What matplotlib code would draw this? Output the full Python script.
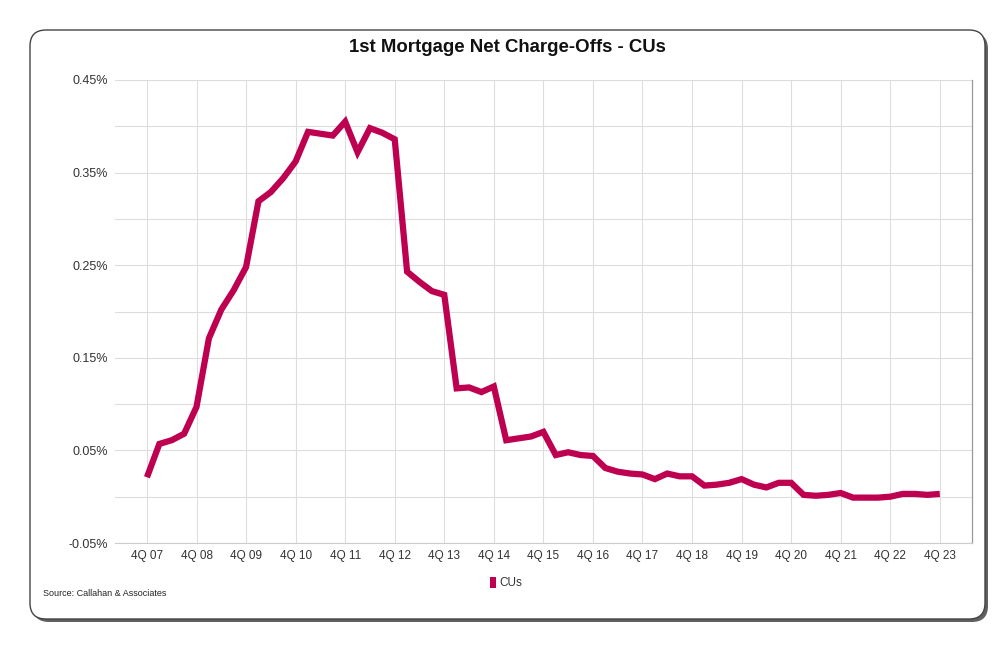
import matplotlib
matplotlib.use("Agg")
import matplotlib.pyplot as plt
import numpy as np
from matplotlib.patches import FancyBboxPatch, Patch
from matplotlib.ticker import FixedLocator

plt.rcParams['font.family'] = ['Liberation Sans', 'DejaVu Sans']

title = "1st Mortgage Net Charge-Offs - CUs"
series_name = "CUs"
source = "Source: Callahan & Associates"

# quarterly values (%), 4Q07 .. 4Q23
values = [0.021, 0.057, 0.061, 0.068, 0.097, 0.171, 0.202, 0.223, 0.248,
          0.319, 0.329, 0.344, 0.362, 0.394, 0.392, 0.390, 0.405, 0.372,
          0.398, 0.393, 0.386, 0.243, 0.232, 0.222, 0.218, 0.117, 0.118,
          0.113, 0.119, 0.061, 0.063, 0.065, 0.070, 0.045, 0.048, 0.045,
          0.044, 0.031, 0.027, 0.025, 0.024, 0.019, 0.025, 0.022, 0.022,
          0.012, 0.013, 0.015, 0.019, 0.013, 0.010, 0.015, 0.015, 0.002,
          0.001, 0.002, 0.004, -0.001, -0.001, -0.001, 0.000, 0.003, 0.003,
          0.002, 0.003]
tick_labels = ["4Q 07", "4Q 08", "4Q 09", "4Q 10", "4Q 11", "4Q 12", "4Q 13",
               "4Q 14", "4Q 15", "4Q 16", "4Q 17", "4Q 18", "4Q 19", "4Q 20",
               "4Q 21", "4Q 22", "4Q 23"]
y_labels = [-0.05, 0.05, 0.15, 0.25, 0.35, 0.45]
y_minor = [0.0, 0.1, 0.2, 0.3, 0.4]

W, H = 1006, 649
fig = plt.figure(figsize=(W / 100, H / 100), dpi=100)
fig.patch.set_facecolor('white')

# background frame axes in pixel units
bg = fig.add_axes([0, 0, 1, 1])
bg.set_xlim(0, W)
bg.set_ylim(H, 0)
bg.axis('off')
shadow = FancyBboxPatch((33, 33), 955, 589, boxstyle="round,pad=0,rounding_size=16",
                        facecolor='#444444', edgecolor='none', alpha=0.85)
bg.add_patch(shadow)
box = FancyBboxPatch((30, 30), 955, 589, boxstyle="round,pad=0,rounding_size=16",
                     facecolor='white', edgecolor='#444444', linewidth=1.0)
bg.add_patch(box)

left, right, top, bottom = 115, 972, 80, 543
ax = fig.add_axes([left / W, 1 - bottom / H, (right - left) / W, (bottom - top) / H])
ax.set_facecolor('none')

x = np.arange(len(values))
ax.plot(x, values, color='#BE0050', linewidth=4.5, solid_joinstyle='miter',
        solid_capstyle='butt', zorder=3)

ax.set_xlim(-2.58, 66.6)
ax.set_ylim(-0.05, 0.45)

xt = np.arange(0, len(values), 4)
ax.set_xticks(xt)
ax.set_xticklabels(tick_labels)
ax.set_yticks(y_labels)
ax.set_yticklabels([f"{v:.2f}%" for v in y_labels])
ax.yaxis.set_minor_locator(FixedLocator(y_minor))

ax.grid(True, which='major', axis='both', color='#dddddd', linewidth=0.8)
ax.grid(True, which='minor', axis='y', color='#dddddd', linewidth=0.8)
ax.set_axisbelow(True)
ax.tick_params(axis='both', which='both', length=0)
ax.tick_params(axis='x', labelsize=8.5, colors='#333333', pad=5)
ax.tick_params(axis='y', labelsize=9, colors='#333333', pad=5)

for s in ['top', 'left']:
    ax.spines[s].set_visible(False)
ax.spines['bottom'].set_color('#cccccc')
ax.spines['bottom'].set_linewidth(0.8)
ax.spines['right'].set_color('#999999')
ax.spines['right'].set_linewidth(0.9)

fig.text(507 / W, 1 - 48 / H, title, ha='center', va='center',
         fontsize=13.4, fontweight='bold', color='#111111')

leg = ax.legend(handles=[Patch(facecolor='#BE0050', edgecolor='none', label=series_name)],
                loc='center', bbox_to_anchor=(506 / W, 1 - 583 / H),
                bbox_transform=fig.transFigure, frameon=False,
                handlelength=0.55, handleheight=1.1, handletextpad=0.3,
                fontsize=8.5)
for t in leg.get_texts():
    t.set_color('#333333')

fig.text(43 / W, 1 - 594 / H, source, ha='left', va='center', fontsize=6.5,
         color='#222222')

fig.savefig('out.png', dpi=100)
